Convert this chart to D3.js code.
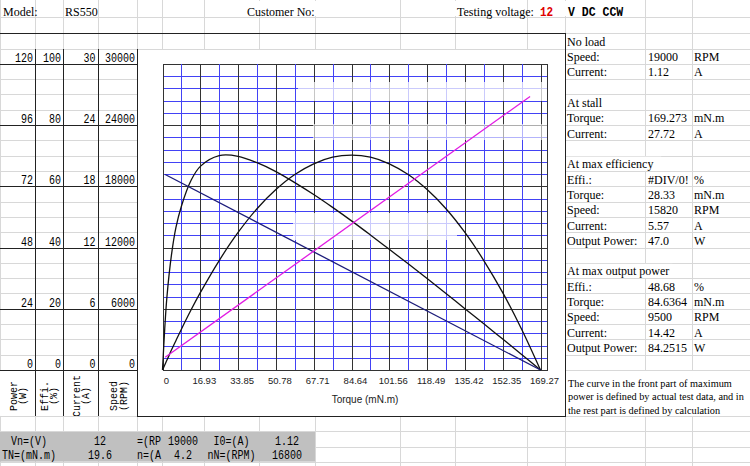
<!DOCTYPE html>
<html><head><meta charset="utf-8">
<script src="https://cdn.jsdelivr.net/npm/d3@7"></script>
<style>body{margin:0;background:#fff}svg{display:block}</style>
</head><body><svg id="c" width="750" height="466"></svg>
<script>
// ---------- data ----------
const torqueTicks = [0,16.93,33.85,50.78,67.71,84.64,101.56,118.49,135.42,152.35,169.27];
const powerTicks = [0,24,48,72,96,120];
const effiTicks = [0,20,40,60,80,100];
const currentTicks = [0,6,12,18,24,30];
const speedTicks = [0,6000,12000,18000,24000,30000];

const curveTorque = [0,1,2,4,6,8.46,12.7,16.93,25.39,33.85,42.32,50.78,59.24,67.71,76.17,84.64,93.1,101.56,110.03,118.49,126.95,135.42,143.88,152.35,160.81,169.27];
const effiValues  = [0,13.5,24.0,37.5,46.5,53.5,61.8,66.5,70.0,69.8,67.7,64.8,61.2,57.3,53.1,48.7,44.1,39.4,34.7,29.9,25.0,20.0,15.1,10.1,5.1,0];
const powerValues = [0,2.0,3.9,7.8,11.5,16.0,23.4,30.3,42.9,53.9,63.2,70.7,76.6,80.8,83.4,84.2,83.4,80.8,76.6,70.7,63.2,53.9,42.9,30.3,16.0,0];
const speedTorque = [1.2,169.27];
const speedValues = [19150,0];
const currentTorque = [1.2,164.6];
const currentValues = [1.25,26.8];

const rightTable = [
  ["No load","",""],
  ["Speed:","19000","RPM"],
  ["Current:","1.12","A"],
  ["","",""],
  ["At stall","",""],
  ["Torque:","169.273","mN.m"],
  ["Current:","27.72","A"],
  ["","",""],
  ["At max efficiency","",""],
  ["Effi.:","#DIV/0!","%"],
  ["Torque:","28.33","mN.m"],
  ["Speed:","15820","RPM"],
  ["Current:","5.57","A"],
  ["Output Power:","47.0","W"],
  ["","",""],
  ["At max output power","",""],
  ["Effi.:","48.68","%"],
  ["Torque:","84.6364","mN.m"],
  ["Speed:","9500","RPM"],
  ["Current:","14.42","A"],
  ["Output Power:","84.2515","W"]
];
const noteLines = ["The curve in the front part of maximum","power is defined by actual test data, and in","the rest part is defined by calculation"];
const bandRow1 = ["Vn=(V)","12","=(RP","19000","I0=(A)","1.12"];
const bandRow2 = ["TN=(mN.m)","19.6","n=(A","4.2","nN=(RPM)","16800"];
const colHeaders = [["Power","(W)"],["Effi.","(%)"],["Current","(A)"],["Speed","(RPM)"]];

// ---------- layout ----------
const svg = d3.select("#c");
const SERIF = "'Liberation Serif','Times New Roman',serif";
const MONO = "'Liberation Mono','DejaVu Sans Mono',monospace";
const SANS = "'Liberation Sans',Arial,sans-serif";
const GRID = "#d8d8d8";
const colX = [0,35,63,98,137,162,204,259,315,400,455,527,565,645,692,750];
const rowTop = 33.2, rh = 15.31;
const rowY = k => rowTop + k*rh;

svg.append("rect").attr("width",750).attr("height",466).attr("fill","#fff");
// spreadsheet gridlines
const g0 = svg.append("g").attr("stroke",GRID).attr("stroke-width",1).attr("shape-rendering","crispEdges");
const hs = [17].concat(d3.range(0,29).map(rowY));
hs.forEach(y=>g0.append("line").attr("x1",0).attr("x2",750).attr("y1",Math.round(y)+0.5).attr("y2",Math.round(y)+0.5));
colX.forEach(x=>g0.append("line").attr("x1",x+0.5).attr("x2",x+0.5).attr("y1",0).attr("y2",466));

// merged / covered areas
svg.append("rect").attr("x",138).attr("y",50).attr("width",427).attr("height",367).attr("fill","#fff");
svg.append("rect").attr("x",0).attr("y",Math.round(rowY(22))+1).attr("width",137).attr("height",rowY(25)-rowY(22)-1).attr("fill","#fff");
svg.append("rect").attr("x",566).attr("y",Math.round(rowY(22))+1).attr("width",184).attr("height",rowY(25)-rowY(22)-1).attr("fill","#fff");
svg.append("rect").attr("x",0).attr("y",Math.round(rowY(26))+1).attr("width",315).attr("height",rowY(28)-rowY(26)-1).attr("fill","#c0c0c0");

// header texts
function txt(x,y,s,o={}){
  const t = svg.append("text").attr("x",x).attr("y",y).text(s)
    .attr("font-family",o.ff||SERIF).attr("font-size",o.fs||12).attr("fill",o.fill||"#000")
    .attr("text-anchor",o.anchor||"start");
  if(o.fw) t.attr("font-weight",o.fw);
  if(o.adv){ t.attr("textLength",s.length*o.adv).attr("lengthAdjust","spacingAndGlyphs"); }
  return t;
}
[[240,78],[455,70]].forEach(([x,w])=>svg.append("rect").attr("x",x).attr("y",1).attr("width",w).attr("height",15).attr("fill","#fff"));
svg.append("rect").attr("x",530).attr("y",1).attr("width",100).attr("height",15).attr("fill","#fff");
txt(3,15.5,"Model:");
txt(65,15.5,"RS550");
txt(247,15.5,"Customer No:");
txt(457,15.5,"Testing voltage:");
txt(540,15.5,"12",{ff:MONO,fs:12.5,fw:"bold",fill:"#e00000",adv:6.6});
txt(568,15.5,"V DC CCW",{ff:MONO,fs:12,fw:"bold",adv:6.9});

// ---------- plot ----------
const x = d3.scaleLinear().domain([0,169.27]).range([162.5,540.5]);
const xRight = 547.5;
const yP = d3.scaleLinear().domain([0,120]).range([370,63.8]);
const yE = d3.scaleLinear().domain([0,100]).range([370,63.8]);
const yC = d3.scaleLinear().domain([0,30]).range([370,63.8]);
const yS = d3.scaleLinear().domain([0,30000]).range([370,63.8]);

const BLUE = "#4242f5";
const pg = svg.append("g").attr("shape-rendering","crispEdges").attr("stroke-width",1);
const subX = d3.range(0,21).map(i=>i*169.27/20);
const subY = d3.range(0,26).map(j=>j*4.8);
subY.forEach((v,j)=>{
  const y = Math.round(yP(v))+0.5;
  pg.append("line").attr("x1",x(0)).attr("x2",xRight).attr("y1",y).attr("y2",y)
    .attr("stroke", j%5===0 ? "#333" : BLUE);
});
subX.forEach((v,i)=>{
  const xx = Math.round(x(v))+0.5;
  pg.append("line").attr("x1",xx).attr("x2",xx).attr("y1",yP(120)).attr("y2",yP(0))
    .attr("stroke", i%2===0 ? "#333" : BLUE);
});
pg.append("line").attr("x1",xRight).attr("x2",xRight).attr("y1",yP(120)).attr("y2",yP(0)).attr("stroke","#333");

// faded watermark remnants (decoration)
[[298,82,249,19,0.72],[313,124,234,16,0.6],[293,213,164,27,0.72]].forEach(([rx,ry,rw,rhh,op])=>
  svg.append("rect").attr("x",rx).attr("y",ry).attr("width",rw).attr("height",rhh).attr("fill","#fff").attr("opacity",op));

// curves
const lineE = d3.line().x((d,i)=>x(curveTorque[i])).y(d=>yE(d)).curve(d3.curveCatmullRom.alpha(0.5));
const lineP = d3.line().x((d,i)=>x(curveTorque[i])).y(d=>yP(d)).curve(d3.curveCatmullRom.alpha(0.5));
svg.append("path").attr("d",lineP(powerValues)).attr("fill","none").attr("stroke","#111").attr("stroke-width",1.3);
svg.append("path").attr("d",lineE(effiValues)).attr("fill","none").attr("stroke","#111").attr("stroke-width",1.3);
const lineS = d3.line().x((d,i)=>x(speedTorque[i])).y(d=>yS(d));
svg.append("path").attr("d",lineS(speedValues)).attr("fill","none").attr("stroke","#1c1c7a").attr("stroke-width",1.3);
const lineC = d3.line().x((d,i)=>x(currentTorque[i])).y(d=>yC(d));
svg.append("path").attr("d",lineC(currentValues)).attr("fill","none").attr("stroke","#e21ce2").attr("stroke-width",1.3);

// x axis
const ax = svg.append("g").attr("transform","translate(3.5,370)")
  .call(d3.axisBottom(x).tickValues(torqueTicks).tickSize(0).tickPadding(7)
    .tickFormat(d=>d===0?"0":d.toFixed(2)));
ax.select(".domain").remove();
ax.selectAll("text").attr("font-family",SANS).attr("font-size",9.5).attr("fill","#222");
txt(365,403,"Torque (mN.m)",{ff:SANS,fs:10,anchor:"middle",fill:"#222"});

// left value columns
const colsRight = [33,61,95.5,135];
[powerTicks,effiTicks,currentTicks,speedTicks].forEach((ticks,ci)=>{
  const sc = [yP,yE,yC,yS][ci];
  ticks.forEach(v=>txt(colsRight[ci], sc(v)-2, String(v), {ff:MONO,fs:12.5,anchor:"end",adv:6}));
});
// rotated column headers
const hdrCx = [[13.5,22.5],[44,53],[76.5,85.5],[113.5,123]];
colHeaders.forEach((pair,ci)=>{
  pair.forEach((s,li)=>{
    const cx = hdrCx[ci][li]+3.5, cy = 396;
    svg.append("text").attr("transform",`translate(${cx},${cy}) rotate(-90)`)
      .attr("text-anchor","middle").attr("font-family",MONO).attr("font-size",11.5)
      .attr("textLength",s.length*6).attr("lengthAdjust","spacingAndGlyphs").text(s);
  });
});
// clip for "Current" overflow
svg.append("rect").attr("x",0).attr("y",417).attr("width",137).attr("height",13).attr("fill","#fff");
const g1 = svg.append("g").attr("stroke",GRID).attr("shape-rendering","crispEdges");
colX.slice(0,5).forEach(xx=>g1.append("line").attr("x1",xx+0.5).attr("x2",xx+0.5).attr("y1",417).attr("y2",Math.round(rowY(26))));
g1.append("line").attr("x1",0).attr("x2",137).attr("y1",Math.round(rowY(25))+0.5).attr("y2",Math.round(rowY(25))+0.5);

// black borders
const bk = svg.append("g").attr("stroke","#222").attr("stroke-width",1).attr("shape-rendering","crispEdges");
bk.append("line").attr("x1",0).attr("x2",565).attr("y1",33.5).attr("y2",33.5);
bk.append("line").attr("x1",565.5).attr("x2",565.5).attr("y1",33).attr("y2",417);
bk.append("line").attr("x1",137).attr("x2",565).attr("y1",416.5).attr("y2",416.5);
[35,63,98,137].forEach(xx=>bk.append("line").attr("x1",xx+0.5).attr("x2",xx+0.5).attr("y1",Math.round(rowY(1))).attr("y2",Math.round(rowY(25))));
powerTicks.forEach(v=>{const y=Math.round(yP(v))+0.5; bk.append("line").attr("x1",0).attr("x2",137).attr("y1",y).attr("y2",y);});

// gray band text
[bandRow1,bandRow2].forEach((row,ri)=>{
  const by = ri===0 ? 445 : 458.5;
  const pos = [[29,"middle"],[100,"middle"],[137,"start"],[183,"middle"],[231.5,"middle"],[287,"middle"]];
  row.forEach((s,i)=>txt(pos[i][0],by,s,{ff:MONO,fs:12,anchor:pos[i][1],adv:6}));
});

// right table
rightTable.forEach((r,k)=>{
  const top = rowY(k), base = top + 12.6;
  if(r[0] && !r[1] && !r[2]){
    const w = r[0].length*5.6;
    svg.append("rect").attr("x",566).attr("y",top+1).attr("width",Math.min(w,160)).attr("height",rh-1.2).attr("fill","#fff");
  }
  txt(567,base,r[0]);
  if(r[1]) txt(648,base,r[1]);
  if(r[2]) txt(694,base,r[2]);
});
noteLines.forEach((s,i)=>txt(568,387+i*13.4,s,{fs:10.3}));
</script></body></html>
